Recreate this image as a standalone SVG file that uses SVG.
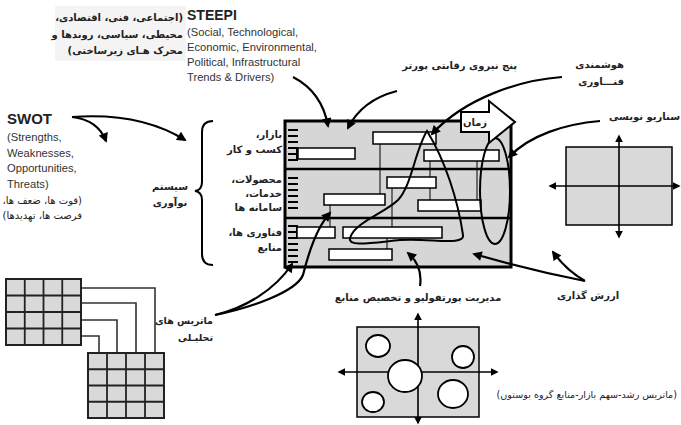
<svg xmlns="http://www.w3.org/2000/svg" width="681" height="425" viewBox="0 0 681 425">
<defs>
<marker id="ah" viewBox="0 0 10 10" refX="8" refY="5" markerWidth="5" markerHeight="4.4" orient="auto-start-reverse" markerUnits="strokeWidth"><path d="M0,0 L10,5 L0,10 z" fill="#000"/></marker>
<marker id="sa" viewBox="0 0 10 10" refX="8" refY="5" markerWidth="5" markerHeight="5" orient="auto-start-reverse" markerUnits="strokeWidth"><path d="M0,0 L10,5 L0,10 z" fill="#000"/></marker>
</defs>
<style>
.en{font-family:"Liberation Sans",Arial,sans-serif;fill:#333;font-size:11.2px}
.enb{font-family:"Liberation Sans",Arial,sans-serif;fill:#222;font-weight:bold}
.fa{font-family:"DejaVu Sans",sans-serif;direction:rtl;unicode-bidi:embed;text-anchor:start;font-size:10px;font-weight:bold;fill:#222}
.fam{font-family:"DejaVu Sans",sans-serif;direction:rtl;unicode-bidi:embed;text-anchor:middle;font-size:10px;font-weight:bold;fill:#222}
.con{fill:none;stroke:#000;stroke-width:2.2;marker-end:url(#ah)}
.bar{fill:#fff;stroke:#000;stroke-width:1.5}
.thin{stroke:#000;stroke-width:1;fill:none}
.tick{stroke:#000;stroke-width:2}
.axis{stroke:#000;stroke-width:1.6;fill:none;marker-start:url(#sa);marker-end:url(#sa)}
.cell{fill:#d9d9d9;stroke:#222;stroke-width:2}
.gl{stroke:#222;stroke-width:1.8}
.link{fill:none;stroke:#333;stroke-width:1.6}
.circ{fill:#fff;stroke:#000;stroke-width:1.8}
</style>

<g id="steepi-fa">
<rect x="55" y="6" width="131" height="55" fill="#f4f4f4"/>
<text class="fa" x="183" y="21">(اجتماعی، فنی، اقتصادی،</text>
<text class="fa" x="183" y="38">محیطی، سیاسی، روندها و</text>
<text class="fa" x="183" y="54">محرک هـای زیرساختی)</text>
</g>

<g id="steepi">
<text class="enb" x="187" y="20" font-size="14">STEEPI</text>
<text class="en" x="187" y="36">(Social, Technological,</text>
<text class="en" x="187" y="51">Economic, Environmental,</text>
<text class="en" x="187" y="66">Political, Infrastructural</text>
<text class="en" x="187" y="81">Trends &amp; Drivers)</text>
</g>

<g id="swot">
<text class="enb" x="7" y="124" font-size="15">SWOT</text>
<text class="en" x="7" y="141" font-size="10.8">(Strengths,</text>
<text class="en" x="7" y="157" font-size="10.8">Weaknesses,</text>
<text class="en" x="7" y="172" font-size="10.8">Opportunities,</text>
<text class="en" x="7" y="188" font-size="10.8">Threats)</text>
<text class="fa" x="82" y="204" style="font-weight:normal">(قوت ها، ضعف ها،</text>
<text class="fa" x="82" y="219" style="font-weight:normal">فرصت ها، تهدیدها)</text>
</g>

<g id="innovation-system">
<path d="M213,121 Q202,121 202,132 L202,182 Q202,190 195,191 Q202,192 202,200 L202,254 Q202,265 213,265" fill="none" stroke="#000" stroke-width="2"/>
<text class="fam" x="170" y="190">سیستم</text>
<text class="fam" x="170" y="206">نوآوری</text>
</g>

<g id="row-labels">
<text class="fa" x="282" y="138">بازار،</text>
<text class="fa" x="282" y="153">کسب و کار</text>
<text class="fa" x="282" y="183">محصولات،</text>
<text class="fa" x="282" y="197">خدمات،</text>
<text class="fa" x="282" y="211">سامانه ها</text>
<text class="fa" x="282" y="236">فناوری ها،</text>
<text class="fa" x="282" y="251">منابع</text>
</g>

<g id="roadmap">
<rect x="285" y="121" width="226" height="146" fill="#d6d6d6" stroke="#000" stroke-width="3"/>
<line x1="285" y1="169" x2="511" y2="169" stroke="#000" stroke-width="2.5"/>
<line x1="285" y1="218" x2="511" y2="218" stroke="#000" stroke-width="2.5"/>
<g class="tick">
<line x1="288" y1="130" x2="298" y2="130"/><line x1="288" y1="136" x2="298" y2="136"/><line x1="288" y1="142" x2="298" y2="142"/><line x1="288" y1="148" x2="298" y2="148"/><line x1="288" y1="154" x2="298" y2="154"/><line x1="288" y1="160" x2="298" y2="160"/>
<line x1="297" y1="148" x2="297" y2="160"/>
<line x1="288" y1="178" x2="298" y2="178"/><line x1="288" y1="184" x2="298" y2="184"/><line x1="288" y1="190" x2="298" y2="190"/><line x1="288" y1="196" x2="298" y2="196"/><line x1="288" y1="202" x2="298" y2="202"/><line x1="288" y1="208" x2="298" y2="208"/>
<line x1="288" y1="226" x2="298" y2="226"/><line x1="288" y1="232" x2="298" y2="232"/><line x1="288" y1="238" x2="298" y2="238"/><line x1="288" y1="244" x2="298" y2="244"/><line x1="288" y1="250" x2="298" y2="250"/><line x1="288" y1="256" x2="298" y2="256"/><line x1="288" y1="262" x2="298" y2="262"/>
<line x1="297" y1="226" x2="297" y2="238"/>
</g>
<g class="thin">
<line x1="380" y1="144" x2="380" y2="194"/>
<line x1="430" y1="161" x2="430" y2="177"/>
<line x1="430" y1="188" x2="430" y2="200"/>
<line x1="477" y1="161" x2="477" y2="200"/>
<line x1="392" y1="188" x2="392" y2="227"/>
<line x1="330" y1="205" x2="330" y2="227"/>
<line x1="387" y1="238" x2="387" y2="249"/>
</g>
<rect class="bar" x="298" y="148" width="57" height="11"/>
<rect class="bar" x="373" y="132" width="63" height="12"/>
<rect class="bar" x="424" y="150" width="75" height="11"/>
<rect class="bar" x="387" y="177" width="49" height="11"/>
<rect class="bar" x="324" y="194" width="61" height="11"/>
<rect class="bar" x="418" y="200" width="63" height="11"/>
<rect class="bar" x="297" y="227" width="38" height="11"/>
<rect class="bar" x="343" y="227" width="99" height="11"/>
<rect class="bar" x="329" y="249" width="63" height="11"/>
<path d="M427,131 C415,150 412,185 398,200 C385,213 355,222 350,238 C348,247 370,243 400,240 C430,238 465,246 463,235 C458,200 445,160 427,131 Z" fill="none" stroke="#000" stroke-width="2"/>
<ellipse cx="495" cy="191" rx="15" ry="53" fill="none" stroke="#000" stroke-width="2"/>
</g>

<g id="time-arrow">
<path d="M461,112 L489,112 L489,101 L515,122 L489,143 L489,132 L461,132 Z" fill="#fff" stroke="#000" stroke-width="2"/>
<text class="fam" x="475" y="126">زمان</text>
</g>

<g id="porter"><text class="fa" x="517" y="69">پنج نیروی رقابتی پورتر</text></g>
<g id="tech-intel">
<text class="fa" x="624" y="68">هوشمندی</text>
<text class="fa" x="624" y="85">فنـــاوری</text>
</g>

<g id="scenario">
<text class="fa" x="680" y="120">سناریو نویسی</text>
<rect x="566" y="147" width="106" height="78" fill="#d9d9d9" stroke="#000" stroke-width="1.5"/>
<line class="axis" x1="619" y1="136" x2="619" y2="237"/>
<line class="axis" x1="550" y1="186" x2="679" y2="186"/>
</g>

<g id="valuation"><text class="fam" x="588" y="299">ارزش گذاری</text></g>

<g id="portfolio">
<text class="fam" x="418" y="301">مدیریت پورتفولیو و تخصیص منابع</text>
<rect x="357" y="327" width="122" height="90" fill="#d9d9d9" stroke="#000" stroke-width="1.5"/>
<line class="axis" x1="418" y1="314" x2="418" y2="423"/>
<line class="axis" x1="339" y1="372" x2="497" y2="372"/>
<ellipse class="circ" cx="378" cy="346" rx="12" ry="11"/>
<ellipse class="circ" cx="463" cy="357" rx="11" ry="11"/>
<ellipse class="circ" cx="405" cy="376" rx="17" ry="16"/>
<ellipse class="circ" cx="373" cy="402" rx="11" ry="10"/>
<ellipse class="circ" cx="453" cy="394" rx="15" ry="14"/>
<text class="fa" x="677" y="398" style="font-size:9.6px;font-weight:normal">(ماتریس رشد-سهم بازار-منابع گروه بوستون)</text>
</g>

<g id="matrices">
<path class="link" d="M81,288 H155 V353 M81,303 H136 V353 M81,320 H117 V353 M81,336 H99 V353"/>
<rect class="cell" x="6" y="279" width="75" height="66"/>
<g class="gl">
<line x1="24.75" y1="279" x2="24.75" y2="345"/><line x1="43.5" y1="279" x2="43.5" y2="345"/><line x1="62.25" y1="279" x2="62.25" y2="345"/>
<line x1="6" y1="295.5" x2="81" y2="295.5"/><line x1="6" y1="312" x2="81" y2="312"/><line x1="6" y1="328.5" x2="81" y2="328.5"/>
</g>
<rect class="cell" x="88" y="353" width="76" height="65"/>
<g class="gl">
<line x1="107" y1="353" x2="107" y2="418"/><line x1="126" y1="353" x2="126" y2="418"/><line x1="145" y1="353" x2="145" y2="418"/>
<line x1="88" y1="369.25" x2="164" y2="369.25"/><line x1="88" y1="385.5" x2="164" y2="385.5"/><line x1="88" y1="401.75" x2="164" y2="401.75"/>
</g>
<text class="fa" x="213" y="324" style="font-size:9.5px">ماتریس های</text>
<text class="fa" x="213" y="341" style="font-size:9.5px">تحلیـلی</text>
</g>

<g id="connectors">
<path class="con" d="M72,117 Q98,120 106,141"/>
<path class="con" d="M72,117 Q140,112 185,140"/>
<path class="con" d="M293,77 Q322,92 328,126"/>
<path class="con" d="M397,91 Q362,100 348,128"/>
<path class="con" d="M562,77 C520,80 465,98 432,134"/>
<path class="con" d="M600,121 C565,124 530,135 509,157"/>
<path class="con" d="M585,281 Q530,270 474,254"/>
<path class="con" d="M585,281 Q566,270 553,252"/>
<path class="con" d="M420,286 Q423,266 408,253"/>
<path class="con" d="M215,315 C245,308 275,290 292,264"/>
<path class="con" d="M215,315 C250,308 296,292 303,275 C308,255 316,228 330,213"/>
</g>
</svg>
